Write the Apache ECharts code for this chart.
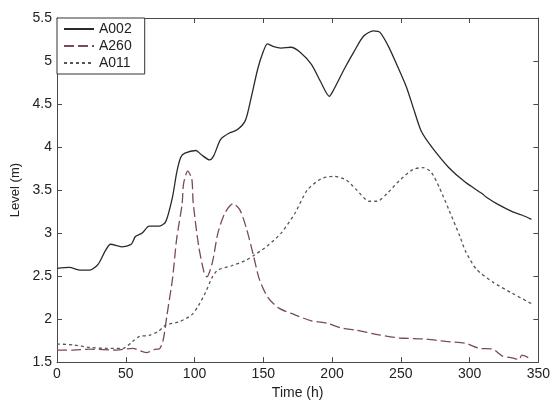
<!DOCTYPE html>
<html>
<head>
<meta charset="utf-8">
<script src="https://cdn.jsdelivr.net/npm/echarts@6/dist/echarts.min.js"></script>
<style>
html,body{margin:0;padding:0;background:#fff;}
#chart{width:553px;height:405px;}
</style>
</head>
<body>
<div id="chart"></div>
<script>
// Data
const seriesNames = ['A002', 'A260', 'A011'];

const a002Time = [0, 9, 17, 24, 30, 35, 39, 47, 54, 57, 62, 67, 74, 79, 84, 87, 90, 93, 101, 105, 111, 114, 119, 125, 131, 137, 141, 146, 150, 153, 157, 163, 170, 177, 185, 192, 198, 201, 209, 216, 223, 230, 235, 241, 247, 254, 260, 265, 273, 285, 297, 309, 312, 321, 331, 338, 345];
const a002Level = [2.59, 2.60, 2.57, 2.57, 2.64, 2.79, 2.87, 2.84, 2.87, 2.96, 3.00, 3.08, 3.08, 3.13, 3.42, 3.70, 3.88, 3.93, 3.96, 3.91, 3.85, 3.90, 4.09, 4.16, 4.20, 4.31, 4.56, 4.91, 5.11, 5.20, 5.17, 5.15, 5.16, 5.10, 4.96, 4.75, 4.59, 4.66, 4.91, 5.11, 5.29, 5.35, 5.33, 5.17, 4.96, 4.70, 4.41, 4.18, 3.99, 3.76, 3.59, 3.46, 3.42, 3.33, 3.25, 3.21, 3.16];

const a260Time = [0, 12, 24, 43, 55, 65, 72, 74, 77, 80, 84, 87, 91, 92, 95, 98, 99, 103, 107, 109, 113, 117, 122, 128, 133, 138, 143, 147, 153, 161, 173, 185, 197, 206, 218, 233, 249, 266, 283, 297, 307, 317, 324, 331, 336, 338, 343];
const a260Level = [1.64, 1.64, 1.65, 1.64, 1.66, 1.61, 1.65, 1.65, 1.74, 2.05, 2.47, 2.93, 3.34, 3.57, 3.72, 3.63, 3.36, 2.85, 2.54, 2.49, 2.66, 3.00, 3.23, 3.34, 3.27, 3.04, 2.73, 2.47, 2.26, 2.13, 2.05, 1.98, 1.95, 1.90, 1.87, 1.82, 1.78, 1.77, 1.74, 1.72, 1.66, 1.65, 1.57, 1.55, 1.53, 1.58, 1.55];

const a011Time = [0, 12, 24, 36, 48, 55, 60, 67, 74, 79, 89, 98, 103, 108, 113, 117, 127, 137, 144, 153, 163, 173, 182, 192, 201, 210, 218, 227, 233, 240, 249, 259, 266, 272, 278, 285, 293, 297, 305, 317, 331, 345];
const a011Level = [1.71, 1.70, 1.67, 1.66, 1.66, 1.74, 1.80, 1.81, 1.86, 1.93, 1.97, 2.05, 2.16, 2.31, 2.49, 2.57, 2.62, 2.68, 2.75, 2.85, 3.00, 3.23, 3.50, 3.63, 3.66, 3.62, 3.50, 3.37, 3.37, 3.46, 3.61, 3.74, 3.76, 3.71, 3.53, 3.27, 2.96, 2.79, 2.58, 2.43, 2.30, 2.18];

const xTicks = [0, 50, 100, 150, 200, 250, 300, 350];
const yTicks = [1.5, 2, 2.5, 3, 3.5, 4, 4.5, 5, 5.5];

function pairs(t, v) { return t.map((x, i) => [x, v[i]]); }

const FONT = "'Liberation Sans', Arial, sans-serif";
const axisColor = '#4a4a4a';
const textColor = '#222';

const chart = echarts.init(document.getElementById('chart'), null, {renderer: 'canvas'});

function xAx(pos, showLabels) {
  return {
    type: 'value', position: pos,
    min: xTicks[0], max: xTicks[xTicks.length - 1], interval: xTicks[1] - xTicks[0],
    axisLine: {show: true, onZero: false, lineStyle: {color: axisColor, width: 1}},
    axisTick: {show: true, inside: true, length: 5, lineStyle: {color: axisColor}},
    axisLabel: {show: showLabels, color: textColor, fontSize: 14, fontFamily: FONT, margin: 5},
    splitLine: {show: false},
    name: showLabels ? 'Time (h)' : '', nameLocation: 'middle', nameGap: 21,
    nameTextStyle: {color: textColor, fontSize: 14, fontFamily: FONT}
  };
}
function yAx(pos, showLabels) {
  return {
    type: 'value', position: pos,
    min: yTicks[0], max: yTicks[yTicks.length - 1], interval: yTicks[1] - yTicks[0],
    axisLine: {show: true, onZero: false, lineStyle: {color: axisColor, width: 1}},
    axisTick: {show: true, inside: true, length: 5, lineStyle: {color: axisColor}},
    axisLabel: {show: showLabels, color: textColor, fontSize: 14, fontFamily: FONT, margin: 5},
    splitLine: {show: false},
    name: showLabels ? 'Level (m)' : '', nameLocation: 'middle', nameGap: 33, nameRotate: 90,
    nameTextStyle: {color: textColor, fontSize: 13, fontFamily: FONT}
  };
}

chart.setOption({
  animation: false,
  backgroundColor: '#fff',
  grid: {left: 57, right: 10, top: 18, bottom: 37, containLabel: false},
  legend: {
    data: seriesNames,
    orient: 'vertical',
    left: 57, top: 18,
    itemWidth: 30, itemHeight: 10, itemGap: 3,
    padding: [4, 13, 4, 6],
    borderColor: '#333', borderWidth: 1,
    backgroundColor: '#fff',
    itemStyle: {color: 'transparent', borderWidth: 0, opacity: 0},
    textStyle: {color: textColor, fontSize: 14, fontFamily: FONT}
  },
  xAxis: [xAx('bottom', true), xAx('top', false)],
  yAxis: [yAx('left', true), yAx('right', false)],
  series: [
    {name: seriesNames[0], type: 'line', data: pairs(a002Time, a002Level), symbol: 'none', smooth: 0.25,
     lineStyle: {color: '#2a2a2a', width: 1.3, type: 'solid'}, itemStyle: {color: '#2a2a2a'}},
    {name: seriesNames[1], type: 'line', data: pairs(a260Time, a260Level), symbol: 'none', smooth: 0.25,
     lineStyle: {color: '#7b4a55', width: 1.3, type: [10, 4]}, itemStyle: {color: '#7b4a55'}},
    {name: seriesNames[2], type: 'line', data: pairs(a011Time, a011Level), symbol: 'none', smooth: 0.25,
     lineStyle: {color: '#555', width: 1.3, type: [3, 3]}, itemStyle: {color: '#555'}}
  ]
});
</script>
</body>
</html>
